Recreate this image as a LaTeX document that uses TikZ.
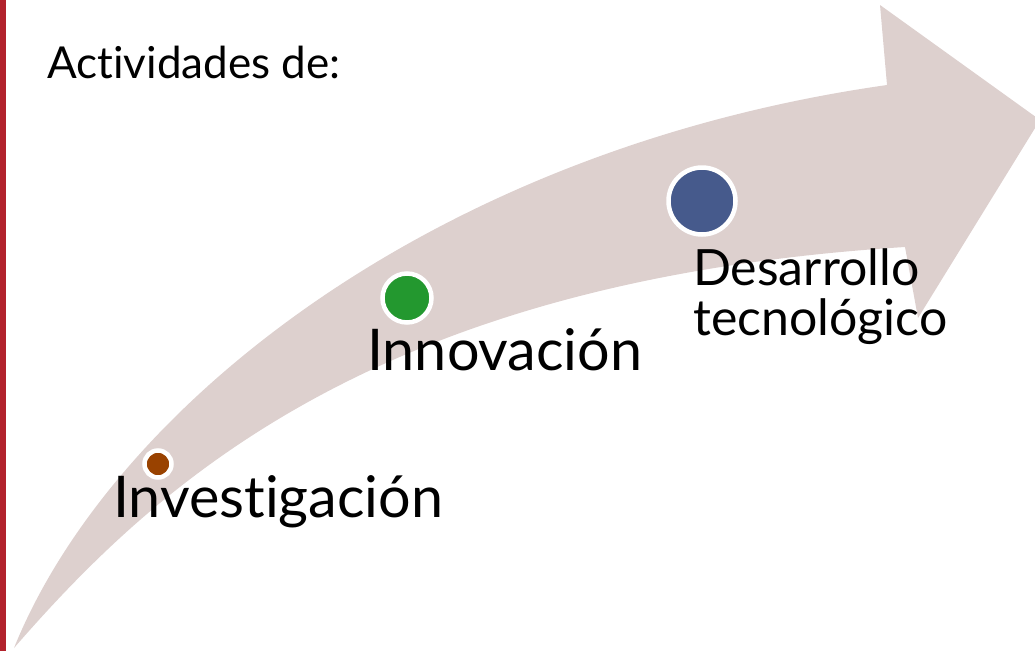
\documentclass[tikz,border=0pt]{standalone}
\usepackage{fontspec}
\setmainfont{Lato}[Ligatures=NoCommon]
\usepackage{xcolor}
\definecolor{bandgray}{RGB}{221,208,206}
\definecolor{edgered}{RGB}{178,34,44}
\definecolor{dotbrown}{RGB}{153,66,0}
\definecolor{dotgreen}{RGB}{35,152,47}
\definecolor{dotblue}{RGB}{70,90,140}

\begin{document}
\begin{tikzpicture}[
    x=1pt, y=-1pt,
    marker/.style={circle, draw=white, line width=4.5pt, inner sep=0pt},
    stage/.style={anchor=base west, inner sep=0pt, font=\fontsize{57.5}{60}\selectfont},
    small/.style={anchor=base west, inner sep=0pt, align=left, font=\fontsize{50}{50}\selectfont}
]
\useasboundingbox (0,0) rectangle (1035,651);

% Curved arrow
\begin{scope}
\clip (0,0) rectangle (1035,651);
\fill[bandgray] (14,648) .. controls (110,410) and (430,150) .. (887,85)
    -- (880,5) -- (1040,120) -- (918,318) -- (905,247)
    .. controls (380,280) and (160,480) .. (14,648) -- cycle;
\end{scope}
\fill[edgered] (0,0) rectangle (6,651);

% Nodes
\node (title) [anchor=base west, inner sep=0pt, font=\fontsize{44}{48}\selectfont] at (47,78) {Actividades de:};
\node (invdot) [marker, fill=dotbrown, minimum size=27pt] at (158,464) {};
\node (inndot) [marker, fill=dotgreen, minimum size=49pt] at (407,298) {};
\node (desdot) [marker, fill=dotblue, minimum size=67pt] at (702,201) {};
\node (inv) [stage] at (113,517) {Investigación};
\node (inn) [stage] at (367,370) {Innovación};
\node (des) [small] at (693,335) {Desarrollo\\tecnológico};

\end{tikzpicture}
\end{document}
